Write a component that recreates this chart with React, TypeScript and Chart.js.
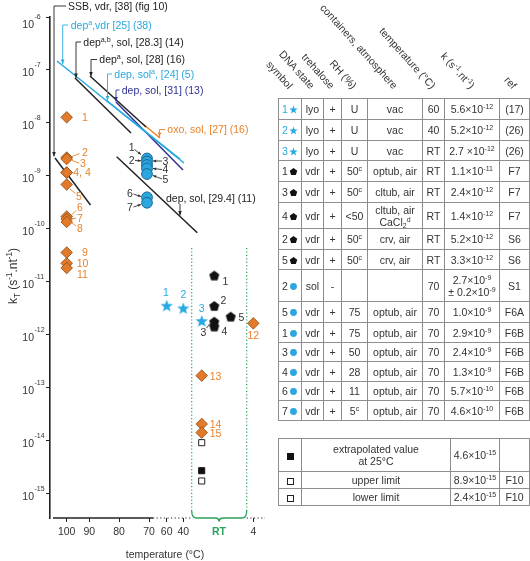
import React, { useEffect, useRef } from 'react';
import { Chart, registerables } from 'chart.js';

Chart.register(...registerables);

const FONT = "'Liberation Sans', Arial, Helvetica, sans-serif";
const TXT = '#333333';
const LB = '#27a9e1';
const DB = '#2e3192';
const OR = '#e8822c';
const OR_FILL = '#e27a2a';
const OR_EDGE = '#8c4b1b';
const CIRC = '#2ba6de';
const CIRC_EDGE = '#1a6a96';
const GR = '#2ca25a';
const AX = '#222222';

// ---------- axes (x is a broken temperature axis; values are axis positions)
const xTickLabels = ['100', '90', '80', '70', '60', '40', 'RT', '4'];
const xTickPos = [8.35, 19.65, 34.5, 49.5, 58.35, 66.65, 84.5, 101.65];
const xMin = 0;
const xMax = 110;
const rtBand = [70.85, 98.35];
const yDecades = [-6, -7, -8, -9, -10, -11, -12, -13, -14, -15];
const yMin = Math.pow(10, -15.453);
const yMax = 1e-6;

// ---------- orange diamonds
const diamondLabels = ['1', '2', '3', '4', '4', '5', '6', '7', '8', '9', '10', '11', '12', '13', '14', '15'];
const diamondX = [8.35, 8.35, 8.35, 8.35, 8.35, 8.35, 8.35, 8.35, 8.35, 8.35, 8.35, 8.35, 101.65, 75.85, 75.85, 75.85];
const diamondK = [1.28e-8, 2.23e-9, 2.09e-9, 1.16e-9, 1.16e-9, 6.9e-10, 1.72e-10, 1.55e-10, 1.36e-10, 3.6e-11, 2.25e-11, 1.84e-11, 1.66e-12, 1.71e-13, 2.09e-14, 1.44e-14];

// ---------- blue stars
const starLabels = ['1', '2', '3'];
const starX = [58.35, 66.65, 75.85];
const starK = [3.57e-12, 3.19e-12, 1.84e-12];

// ---------- black pentagons
const pentLabels = ['1', '2', '3', '4', '5'];
const pentX = [82.15, 82.15, 82.15, 82.15, 90.35];
const pentK = [1.32e-11, 3.52e-12, 1.78e-12, 1.44e-12, 2.21e-12];

// ---------- blue circles (70 °C)
const circLabels = ['1', '2', '3', '4', '5', '6', '7'];
const circX = [48.5, 48.5, 48.5, 48.5, 48.5, 48.5, 48.5];
const circK = [2.14e-9, 1.88e-9, 1.61e-9, 1.39e-9, 1.09e-9, 3.96e-10, 3.13e-10];

// ---------- squares
const openSqX = [75.85, 75.85];
const openSqK = [9.3e-15, 1.76e-15];
const fillSqX = [75.85];
const fillSqK = [2.75e-15];

// ---------- Arrhenius extrapolation lines
const lineLabels = [
  'SSB, vdr, [38] (fig 10)',
  'dep^{a},vdr [25] (38)',
  'dep, sol^{a}, [24] (5)',
  'dep, sol, [31] (13)',
  'dep^{a,b}, sol, [28.3] (14)',
  'dep^{a}, sol, [28] (16)',
  'oxo, sol, [27] (16)',
  'dep, sol, [29.4] (11)',
];
const lineX = [[2.5, 20.25], [3.5, 67], [28, 65], [33, 66.5], [12.5, 40.5], [20, 48], [46.5, 55], [33.35, 73.65]];
const lineK = [
  [2.19e-9, 2.84e-10],
  [1.48e-7, 1.76e-9],
  [2.72e-8, 2.09e-9],
  [2.49e-8, 1.3e-9],
  [7.06e-8, 6.47e-9],
  [7.71e-8, 8.41e-9],
  [9.57e-9, 5.21e-9],
  [2.31e-9, 8.51e-11],
];
const lineColors = [AX, LB, LB, DB, AX, AX, OR, AX];

// ---------- table
type Sym = 'star' | 'pent' | 'circ' | 'sqFill' | 'sqOpen';
const tblHeaders = ['symbol', 'DNA state', 'trehalose', 'RH (%)', 'containers, atmosphere', 'temperature (°C)', 'k (s^{-1}.nt^{-1})', 'ref'];
const tblSymNum = ['1', '2', '3', '1', '3', '4', '2', '5', '2', '5', '1', '3', '4', '6', '7'];
const tblSym: Sym[] = ['star', 'star', 'star', 'pent', 'pent', 'pent', 'pent', 'pent', 'circ', 'circ', 'circ', 'circ', 'circ', 'circ', 'circ'];
const tblState = ['lyo', 'lyo', 'lyo', 'vdr', 'vdr', 'vdr', 'vdr', 'vdr', 'sol', 'vdr', 'vdr', 'vdr', 'vdr', 'vdr', 'vdr'];
const tblTrehalose = ['+', '+', '+', '+', '+', '+', '+', '+', '-', '+', '+', '+', '+', '+', '+'];
const tblRH = ['U', 'U', 'U', '50^{c}', '50^{c}', '<50', '50^{c}', '50^{c}', '', '75', '75', '50', '28', '11', '5^{c}'];
const tblContainer = ['vac', 'vac', 'vac', 'optub, air', 'cltub, air', 'cltub, air|CaCl_{2}^{d}', 'crv, air', 'crv, air', '', 'optub, air', 'optub, air', 'optub, air', 'optub, air', 'optub, air', 'optub, air'];
const tblTemp = ['60', '40', 'RT', 'RT', 'RT', 'RT', 'RT', 'RT', '70', '70', '70', '70', '70', '70', '70'];
const tblK = ['5.6×10^{-12}', '5.2×10^{-12}', '2.7 ×10^{-12}', '1.1×10^{-11}', '2.4×10^{-12}', '1.4×10^{-12}', '5.2×10^{-12}', '3.3×10^{-12}', '2.7×10^{-9}|± 0.2×10^{-9}', '1.0×10^{-9}', '2.9×10^{-9}', '2.4×10^{-9}', '1.3×10^{-9}', '5.7×10^{-10}', '4.6×10^{-10}'];
const tblRef = ['(17)', '(26)', '(26)', 'F7', 'F7', 'F7', 'S6', 'S6', 'S1', 'F6A', 'F6B', 'F6B', 'F6B', 'F6B', 'F6B'];
const tbl2Sym: Sym[] = ['sqFill', 'sqOpen', 'sqOpen'];
const tbl2Desc = ['extrapolated value|at 25°C', 'upper limit', 'lower limit'];
const tbl2K = ['4.6×10^{-15}', '8.9×10^{-15}', '2.4×10^{-15}'];
const tbl2Ref = ['', 'F10', 'F10'];

// layout of table
const T_LEFT = 278;
const T_TOP = 98;
const colW = [23, 22, 18, 26, 55, 22, 55, 30];
const rowH = [21, 21, 20, 21, 21, 26, 21, 20, 32, 21, 20, 19, 20, 19, 20];
const T2_TOP = 438;
const col2W = [23, 149, 49, 30];
const row2H = [33, 17, 17];

// ---------- helpers
type Part = { t: string; s?: 'sup' | 'sub' };
function parseMarkup(s: string): Part[] {
  return s
    .split(/(\^\{[^}]*\}|_\{[^}]*\})/)
    .filter((p) => p.length > 0)
    .map((p) => {
      if (p.startsWith('^{')) return { t: p.slice(2, -1), s: 'sup' as const };
      if (p.startsWith('_{')) return { t: p.slice(2, -1), s: 'sub' as const };
      return { t: p };
    });
}

function drawRich(ctx: CanvasRenderingContext2D, text: string, x: number, baseline: number, size: number, color: string, align: 'left' | 'center' | 'right' = 'left') {
  const parts = parseMarkup(text);
  const small = size * 0.68;
  const widths = parts.map((p) => {
    ctx.font = `${p.s ? small : size}px ${FONT}`;
    return ctx.measureText(p.t).width;
  });
  const total = widths.reduce((a, b) => a + b, 0);
  let cx = align === 'center' ? x - total / 2 : align === 'right' ? x - total : x;
  ctx.fillStyle = color;
  ctx.textAlign = 'left';
  ctx.textBaseline = 'alphabetic';
  parts.forEach((p, i) => {
    ctx.font = `${p.s ? small : size}px ${FONT}`;
    const dy = p.s === 'sup' ? -size * 0.4 : p.s === 'sub' ? size * 0.25 : 0;
    ctx.fillText(p.t, cx, baseline + dy);
    cx += widths[i];
  });
}

function label(ctx: CanvasRenderingContext2D, text: string, x: number, midY: number, color: string, align: 'left' | 'center' | 'right' = 'center', size = 10.5) {
  drawRich(ctx, text, x, midY + size * 0.36, size, color, align);
}

function leader(ctx: CanvasRenderingContext2D, pts: number[][], color: string, arrow = true, big = true) {
  ctx.save();
  ctx.setLineDash([]);
  ctx.strokeStyle = color;
  ctx.fillStyle = color;
  ctx.lineWidth = 0.9;
  ctx.beginPath();
  ctx.moveTo(pts[0][0], pts[0][1]);
  for (let i = 1; i < pts.length; i++) ctx.lineTo(pts[i][0], pts[i][1]);
  ctx.stroke();
  if (arrow) {
    const [x1, y1] = pts[pts.length - 2];
    const [x2, y2] = pts[pts.length - 1];
    const a = Math.atan2(y2 - y1, x2 - x1);
    const L = big ? 4.5 : 3.2;
    const W = big ? 1.8 : 1.4;
    ctx.beginPath();
    ctx.moveTo(x2, y2);
    ctx.lineTo(x2 - L * Math.cos(a) + W * Math.sin(a), y2 - L * Math.sin(a) - W * Math.cos(a));
    ctx.lineTo(x2 - L * Math.cos(a) - W * Math.sin(a), y2 - L * Math.sin(a) + W * Math.cos(a));
    ctx.closePath();
    ctx.fill();
  }
  ctx.restore();
}

function polyPts(n: number, rOut: number, rIn: number | null, cx: number, cy: number) {
  const pts: number[][] = [];
  const count = rIn === null ? n : n * 2;
  for (let i = 0; i < count; i++) {
    const r = rIn === null ? rOut : i % 2 === 0 ? rOut : rIn;
    const a = -Math.PI / 2 + (i * 2 * Math.PI) / count;
    pts.push([cx + r * Math.cos(a), cy + r * Math.sin(a)]);
  }
  return pts;
}

function makeShape(kind: 'star' | 'pent', color: string) {
  const r = kind === 'star' ? 6.5 : 5.3;
  const s = 16;
  const c = document.createElement('canvas');
  c.width = s;
  c.height = s;
  const g = c.getContext('2d')!;
  const pts = kind === 'star' ? polyPts(5, r, r * 0.42, s / 2, s / 2 + 0.5) : polyPts(5, r, null, s / 2, s / 2 + 0.4);
  g.beginPath();
  pts.forEach(([x, y], i) => (i === 0 ? g.moveTo(x, y) : g.lineTo(x, y)));
  g.closePath();
  g.fillStyle = color;
  g.fill();
  return c;
}

const pt = (xs: number[], ks: number[]) => xs.map((x, i) => ({ x, y: ks[i] }));

// ---------- annotation plugin
const annotPlugin = {
  id: 'annot',
  beforeDatasetsDraw(chart: any) {
    const ctx: CanvasRenderingContext2D = chart.ctx;
    const xs = chart.scales.x;
    ctx.save();
    ctx.strokeStyle = GR;
    ctx.lineWidth = 1.2;
    ctx.setLineDash([1.2, 2.2]);
    for (const v of rtBand) {
      const px = xs.getPixelForValue(v);
      ctx.beginPath();
      ctx.moveTo(px, 248);
      ctx.lineTo(px, 511);
      ctx.stroke();
    }
    ctx.restore();
  },
  afterDraw(chart: any) {
    const ctx: CanvasRenderingContext2D = chart.ctx;
    const xs = chart.scales.x;
    const ys = chart.scales.y;
    const area = chart.chartArea;
    ctx.save();

    // y tick labels 10^n
    yDecades.forEach((e, i) => {
      const py = ys.getPixelForValue(Math.pow(10, e));
      const top = i === 0;
      ctx.fillStyle = TXT;
      ctx.textBaseline = 'alphabetic';
      ctx.font = `10.5px ${FONT}`;
      ctx.textAlign = 'right';
      ctx.fillText('10', 34, py + (top ? 11.3 : 5.6));
      ctx.font = `7px ${FONT}`;
      ctx.textAlign = 'left';
      ctx.fillText(String(e), 34.5, py + (top ? 2.3 : -2.6));
    });

    // y title
    ctx.save();
    ctx.translate(16.5, 276);
    ctx.rotate(-Math.PI / 2);
    drawRich(ctx, 'k_{T} (s^{-1}.nt^{-1})', 0, 0, 12, TXT, 'center');
    ctx.restore();

    // x axis line: solid then dotted (broken axis)
    const yAx = area.bottom;
    ctx.strokeStyle = AX;
    ctx.lineWidth = 1.5;
    ctx.setLineDash([]);
    ctx.beginPath();
    ctx.moveTo(xs.getPixelForValue(1.5), yAx);
    ctx.lineTo(xs.getPixelForValue(51.5), yAx);
    ctx.stroke();
    ctx.lineWidth = 1.2;
    ctx.setLineDash([1.2, 2.4]);
    ctx.beginPath();
    ctx.moveTo(xs.getPixelForValue(51.5), yAx);
    ctx.lineTo(xs.getPixelForValue(rtBand[0]), yAx);
    ctx.moveTo(xs.getPixelForValue(rtBand[1]), yAx);
    ctx.lineTo(xs.getPixelForValue(107.5), yAx);
    ctx.stroke();
    ctx.setLineDash([]);

    // RT brace
    const b0 = xs.getPixelForValue(rtBand[0]);
    const b1 = xs.getPixelForValue(rtBand[1]);
    const bm = (b0 + b1) / 2;
    ctx.strokeStyle = GR;
    ctx.lineWidth = 1.3;
    ctx.beginPath();
    ctx.moveTo(b0, yAx - 7);
    ctx.quadraticCurveTo(b0, yAx, b0 + 5, yAx);
    ctx.lineTo(bm - 4.5, yAx);
    ctx.quadraticCurveTo(bm, yAx, bm, yAx + 3.8);
    ctx.quadraticCurveTo(bm, yAx, bm + 4.5, yAx);
    ctx.lineTo(b1 - 5, yAx);
    ctx.quadraticCurveTo(b1, yAx, b1, yAx - 7);
    ctx.stroke();

    // x title
    ctx.fillStyle = TXT;
    ctx.font = `10.5px ${FONT}`;
    ctx.textAlign = 'center';
    ctx.textBaseline = 'middle';
    ctx.fillText('temperature (°C)', 165, 555);

    // line labels and leaders
    const labelPos = [[68, 6], [70.7, 25], [114.3, 74], [121.7, 90], [83.3, 42], [99.3, 59.5], [167.3, 129.5], [166, 198.5]];
    const leaders = [
      [[66, 6], [54, 6], [54, 156.5]],
      [[68, 25], [62.7, 25], [62.7, 64]],
      [[112, 74], [107.5, 74], [107.5, 100.5]],
      [[119.5, 90], [116, 90], [116, 101.5]],
      [[81, 42], [76, 42], [76, 78]],
      [[97, 59.5], [91, 59.5], [91, 76.5]],
      [[165, 129.5], [159.5, 129.5], [159.5, 137]],
      [[180, 204], [180, 215.5]],
    ];
    lineLabels.forEach((t, i) => {
      leader(ctx, leaders[i], lineColors[i]);
      label(ctx, t, labelPos[i][0], labelPos[i][1], lineColors[i], 'left');
    });

    // orange diamond labels
    const dPos = [[85, 117.5], [85, 152.5], [83, 163.5], [0, 0], [82, 172.7], [79, 196.7], [80, 207.3], [80, 218.3], [80, 228.3], [85, 252.3], [82.5, 263.3], [82.5, 274], [253.3, 335], [215.5, 376], [215.5, 424], [215.5, 433]];
    const dText = diamondLabels.slice();
    dText[4] = '4, 4';
    dPos.forEach((p, i) => {
      if (i === 3) return;
      label(ctx, dText[i], p[0], p[1], OR, 'center');
    });
    const oLead = [
      [[72, 156.5], [79.5, 153.5]],
      [[72, 160.5], [79, 163]],
      [[70, 189], [75.5, 193.5]],
      [[71, 215.5], [76, 210.5]],
      [[71.5, 219], [76, 218.3]],
      [[71.5, 222.5], [76, 226]],
    ];
    oLead.forEach((l) => leader(ctx, l, OR, false));

    // circle labels
    const cPos = [[131.7, 147], [131.7, 160.5], [165.5, 161], [165.5, 169.5], [165.5, 179.5], [130, 193], [130, 207]];
    circLabels.forEach((t, i) => label(ctx, t, cPos[i][0], cPos[i][1], TXT, 'center'));
    const cLead = [
      [[134.5, 149.5], [141, 154.5]],
      [[135, 160.5], [141, 160.8]],
      [[162, 161], [153, 161]],
      [[162, 169.5], [153, 168.5]],
      [[162, 179], [153, 175.5]],
      [[133.5, 194], [141, 196.5]],
      [[133.5, 207], [141, 204.5]],
    ];
    cLead.forEach((l) => leader(ctx, l, TXT, true, false));

    // star labels
    const sPos = [[166, 292.3], [183.3, 294.7], [201.7, 308]];
    starLabels.forEach((t, i) => label(ctx, t, sPos[i][0], sPos[i][1], LB, 'center'));

    // pentagon labels
    const pPos = [[225.5, 281], [223.3, 300], [203.3, 332.7], [224.5, 331], [241.5, 317]];
    pentLabels.forEach((t, i) => label(ctx, t, pPos[i][0], pPos[i][1], TXT, 'center'));
    leader(ctx, [[206.5, 328], [211, 322.5]], TXT, false);

    ctx.restore();
  },
};

// ---------- table rendering
const supStyle: React.CSSProperties = { fontSize: '7px', lineHeight: 0, verticalAlign: '4px' };
const subStyle: React.CSSProperties = { fontSize: '7px', lineHeight: 0, verticalAlign: '-2px' };

function rich(s: string) {
  return s.split('|').map((ln, li) => (
    <React.Fragment key={li}>
      {li > 0 && <br />}
      {parseMarkup(ln).map((p, i) =>
        p.s === 'sup' ? (
          <sup key={i} style={supStyle}>{p.t}</sup>
        ) : p.s === 'sub' ? (
          <sub key={i} style={subStyle}>{p.t}</sub>
        ) : (
          <span key={i}>{p.t}</span>
        )
      )}
    </React.Fragment>
  ));
}

function ptsStr(pts: number[][]) {
  return pts.map((p) => `${p[0].toFixed(2)},${p[1].toFixed(2)}`).join(' ');
}

function SymIcon({ kind }: { kind: Sym }) {
  const st: React.CSSProperties = { verticalAlign: '-1px', marginLeft: 1 };
  if (kind === 'star')
    return (
      <svg width="9" height="9" viewBox="-5 -5 10 10" style={st}>
        <polygon points={ptsStr(polyPts(5, 4.9, 2.0, 0, 0.4))} fill={LB} />
      </svg>
    );
  if (kind === 'pent')
    return (
      <svg width="9" height="9" viewBox="-5 -5 10 10" style={st}>
        <polygon points={ptsStr(polyPts(5, 4.4, null, 0, 0.4))} fill="#111" />
      </svg>
    );
  if (kind === 'circ')
    return (
      <svg width="9" height="9" viewBox="-5 -5 10 10" style={st}>
        <circle cx="0" cy="0" r="3.8" fill={CIRC} />
      </svg>
    );
  if (kind === 'sqFill')
    return (
      <svg width="7" height="7" viewBox="0 0 7 7" style={{ verticalAlign: 'middle' }}>
        <rect x="0.5" y="0.5" width="6" height="6" fill="#111" stroke="#111" />
      </svg>
    );
  return (
    <svg width="7" height="7" viewBox="0 0 7 7" style={{ verticalAlign: 'middle' }}>
      <rect x="0.5" y="0.5" width="6" height="6" fill="#fff" stroke="#222" />
    </svg>
  );
}

const cellStyle: React.CSSProperties = {
  border: '1px solid #8e8e8e',
  padding: 0,
  textAlign: 'center',
  verticalAlign: 'middle',
  whiteSpace: 'nowrap',
  overflow: 'hidden',
  lineHeight: '12px',
};

export default function App() {
  const ref = useRef<HTMLCanvasElement>(null);

  useEffect(() => {
    const starImg = makeShape('star', LB);
    const pentImg = makeShape('pent', '#111');
    const datasets: any[] = [];
    lineX.forEach((xs, i) => {
      datasets.push({
        label: lineLabels[i],
        data: pt(xs, lineK[i]),
        showLine: true,
        borderColor: lineColors[i],
        backgroundColor: lineColors[i],
        borderWidth: 1.5,
        pointRadius: 0,
        tension: 0,
        order: 2,
        clip: false,
      });
    });
    datasets.push({
      label: 'diamonds',
      data: pt(diamondX, diamondK),
      pointStyle: 'rectRot',
      pointRadius: 5.8,
      backgroundColor: OR_FILL,
      borderColor: OR_EDGE,
      borderWidth: 0.8,
      order: 1,
      clip: false,
    });
    datasets.push({
      label: 'circles',
      data: pt(circX, circK),
      pointStyle: 'circle',
      pointRadius: 5.4,
      backgroundColor: CIRC,
      borderColor: CIRC_EDGE,
      borderWidth: 1,
      order: 1,
      clip: false,
    });
    datasets.push({
      label: 'stars',
      data: pt(starX, starK),
      pointStyle: starImg,
      pointRadius: 6,
      order: 1,
      clip: false,
    });
    datasets.push({
      label: 'pentagons',
      data: pt(pentX, pentK),
      pointStyle: pentImg,
      pointRadius: 5,
      order: 1,
      clip: false,
    });
    datasets.push({
      label: 'extrapolated',
      data: pt(fillSqX, fillSqK),
      pointStyle: 'rect',
      pointRadius: 4.3,
      backgroundColor: '#111',
      borderColor: '#111',
      borderWidth: 1,
      order: 1,
      clip: false,
    });
    datasets.push({
      label: 'limits',
      data: pt(openSqX, openSqK),
      pointStyle: 'rect',
      pointRadius: 4.3,
      backgroundColor: '#fff',
      borderColor: '#222',
      borderWidth: 1,
      order: 1,
      clip: false,
    });

    const chart = new Chart(ref.current!, {
      type: 'scatter',
      data: { datasets },
      options: {
        animation: false,
        responsive: false,
        events: [],
        layout: { padding: { top: 17, right: 10, bottom: 0, left: 0 } },
        plugins: { legend: { display: false }, tooltip: { enabled: false } },
        scales: {
          x: {
            type: 'linear',
            min: xMin,
            max: xMax,
            afterBuildTicks: (s: any) => {
              s.ticks = xTickPos.map((v) => ({ value: v }));
            },
            afterFit: (s: any) => {
              s.height = 43;
            },
            border: { display: false },
            grid: {
              drawOnChartArea: false,
              drawTicks: true,
              tickLength: 4,
              lineWidth: 1,
              color: (c: any) => (c.index === 6 ? 'rgba(0,0,0,0)' : AX),
              tickColor: (c: any) => (c.index === 6 ? 'rgba(0,0,0,0)' : AX),
            },
            ticks: {
              autoSkip: false,
              maxRotation: 0,
              minRotation: 0,
              padding: 4,
              color: (c: any) => (c.index === 6 ? GR : TXT),
              font: (c: any) => ({ family: FONT, size: 10.5, weight: c.index === 6 ? 'bold' : 'normal' }),
              callback: (_v: any, i: number) => xTickLabels[i],
            },
          },
          y: {
            type: 'logarithmic',
            min: yMin,
            max: yMax,
            afterBuildTicks: (s: any) => {
              s.ticks = yDecades.map((e) => ({ value: Math.pow(10, e), major: true }));
            },
            afterFit: (s: any) => {
              s.width = 50;
            },
            border: { display: true, color: AX, width: 1.6 },
            grid: { drawOnChartArea: false, drawTicks: true, tickLength: 4, color: AX, lineWidth: 1 },
            ticks: { display: false },
          },
        },
      } as any,
      plugins: [annotPlugin],
    });
    return () => chart.destroy();
  }, []);

  let cx = T_LEFT;
  const colCenters = colW.map((w) => {
    const c = cx + w / 2;
    cx += w;
    return c;
  });

  return (
    <div style={{ position: 'absolute', left: 0, top: 0, width: 530, height: 561, fontFamily: FONT, color: TXT, background: '#fff', overflow: 'hidden' }}>
      <canvas ref={ref} width={280} height={561} style={{ position: 'absolute', left: 0, top: 0 }} />
      {tblHeaders.map((h, i) => (
        <div
          key={h}
          style={{
            position: 'absolute',
            left: colCenters[i] + 1 - 200,
            top: 87 - 6,
            width: 200,
            height: 12,
            lineHeight: '12px',
            fontSize: '10.5px',
            textAlign: 'right',
            whiteSpace: 'nowrap',
            transformOrigin: '100% 50%',
            transform: 'rotate(48deg)',
            color: TXT,
          }}
        >
          {rich(h)}
        </div>
      ))}
      <table
        style={{
          position: 'absolute',
          left: T_LEFT,
          top: T_TOP,
          width: colW.reduce((a, b) => a + b, 0),
          borderCollapse: 'collapse',
          tableLayout: 'fixed',
          fontSize: '10.5px',
          color: TXT,
        }}
      >
        <colgroup>
          {colW.map((w, i) => (
            <col key={i} style={{ width: w }} />
          ))}
        </colgroup>
        <tbody>
          {rowH.map((h, r) => (
            <tr key={r} style={{ height: h }}>
              <td style={cellStyle}>
                <span style={{ color: tblSym[r] === 'star' ? LB : TXT }}>{tblSymNum[r]}</span>
                <SymIcon kind={tblSym[r]} />
              </td>
              <td style={cellStyle}>{tblState[r]}</td>
              <td style={cellStyle}>{tblTrehalose[r]}</td>
              <td style={cellStyle}>{rich(tblRH[r])}</td>
              <td style={cellStyle}>{rich(tblContainer[r])}</td>
              <td style={cellStyle}>{tblTemp[r]}</td>
              <td style={cellStyle}>{rich(tblK[r])}</td>
              <td style={cellStyle}>{tblRef[r]}</td>
            </tr>
          ))}
        </tbody>
      </table>
      <table
        style={{
          position: 'absolute',
          left: T_LEFT,
          top: T2_TOP,
          width: col2W.reduce((a, b) => a + b, 0),
          borderCollapse: 'collapse',
          tableLayout: 'fixed',
          fontSize: '10.5px',
          color: TXT,
        }}
      >
        <colgroup>
          {col2W.map((w, i) => (
            <col key={i} style={{ width: w }} />
          ))}
        </colgroup>
        <tbody>
          {row2H.map((h, r) => (
            <tr key={r} style={{ height: h }}>
              <td style={cellStyle}>
                <SymIcon kind={tbl2Sym[r]} />
              </td>
              <td style={cellStyle}>{rich(tbl2Desc[r])}</td>
              <td style={cellStyle}>{rich(tbl2K[r])}</td>
              <td style={cellStyle}>{tbl2Ref[r]}</td>
            </tr>
          ))}
        </tbody>
      </table>
    </div>
  );
}
